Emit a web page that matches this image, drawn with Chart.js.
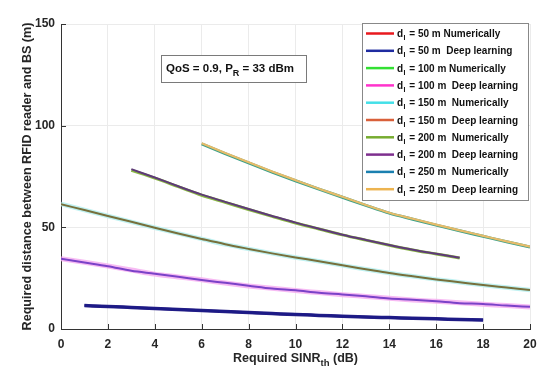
<!DOCTYPE html>
<html><head><meta charset="utf-8">
<script src="https://cdn.jsdelivr.net/npm/chart.js@4.4.0/dist/chart.umd.min.js"></script>
<style>html,body{margin:0;padding:0;background:#fff;}#wrap{width:550px;height:377px;}</style>
</head><body><div id="wrap"><canvas id="c" width="550" height="377"></canvas></div>
<script>
// ---- data ----
const x50 = [1,2,3,4,5,6,7,8,9,10,11,12,13,14,15,16,17,18];
const num50 = [11.5,11.1,10.6,10.1,9.6,9.1,8.6,8.1,7.6,7.1,6.7,6.3,5.9,5.6,5.3,5.0,4.7,4.4];
const dl50  = [11.6,11.1,10.6,10.1,9.6,9.1,8.6,8.1,7.6,7.2,6.7,6.3,5.9,5.6,5.3,5.0,4.7,4.4];
const x100 = [0,1,2,3,4,5,6,7,8,9,10,11,12,13,14,15,16,17,18,19,20];
const num100 = [34.6,32.8,31.0,29.0,27.0,25.6,24.2,22.6,21.2,20.0,18.9,17.9,16.9,16.0,15.1,14.3,13.6,12.9,12.2,11.5,10.8];
const dl100  = [34.5,32.7,30.9,28.6,27.2,25.7,24.1,22.7,21.3,19.9,19.0,17.8,17.0,16.1,15.0,14.4,13.6,12.7,12.3,11.5,10.9];
const x150 = [0,1,2,3,4,5,6,7,8,9,10,11,12,13,14,15,16,17,18,19,20];
const num150 = [61.5,58.5,55.6,52.7,49.8,47.0,44.3,41.6,39.4,37.2,35.2,33.3,31.3,29.4,27.5,25.9,24.4,23.0,21.6,20.4,19.2];
const dl150  = [61.4,58.5,55.6,52.7,49.8,47.0,44.3,41.7,39.4,37.2,35.2,33.3,31.3,29.4,27.5,25.9,24.4,23.0,21.6,20.4,19.2];
const x200 = [3,4,5,6,7,8,9,10,11,12,13,14,15,16,17];
const num200 = [78.0,74.2,70.0,65.8,62.3,58.8,55.4,52.1,49.2,46.3,43.7,41.2,38.9,36.9,34.9];
const dl200  = [78.6,74.5,70.2,66.1,62.5,59.0,55.6,52.3,49.3,46.4,43.8,41.3,39.0,37.0,35.0];
const x250 = [6,7,8,9,10,11,12,13,14,15,16,17,18,19,20];
const num250 = [91.0,86.3,81.7,77.2,72.9,68.8,64.8,60.8,57.0,54.0,51.1,48.3,45.6,42.9,40.3];
const dl250  = [91.3,86.6,82.0,77.5,73.2,69.0,65.0,61.0,57.2,54.2,51.3,48.5,45.8,43.1,40.5];
const xTicks = [0,2,4,6,8,10,12,14,16,18,20];
const yTicks = [0,50,100,150];
const legendLabels = [
  '50 m Numerically','50 m  Deep learning','100 m Numerically','100 m  Deep learning',
  '150 m  Numerically','150 m  Deep learning','200 m  Numerically','200 m  Deep learning',
  '250 m  Numerically','250 m  Deep learning'
];
const legendColors = ['#e8191e','#1f2ba0','#33e033','#ff33cc','#44e0e8','#d9603a','#77ac30','#7e2f8e','#1a80b0','#edb450'];

function pts(xs, ys){ return xs.map((x,i)=>({x:x,y:ys[i]})); }

const datasets = [
  {data:pts(x50,num50), borderColor:'#2a2288', borderWidth:3.5, order:2},
  {data:pts(x50,dl50), borderColor:'#1c1a86', borderWidth:2.5, order:1},
  {data:pts(x100,num100), borderColor:'rgba(245,170,240,0.8)', borderWidth:5, order:2},
  {data:pts(x100,dl100), borderColor:'#7b42c8', borderWidth:2, order:1},
  {data:pts(x150,num150), borderColor:'rgba(185,240,240,0.9)', borderWidth:4.5, order:2},
  {data:pts(x150,dl150), borderColor:'#77703c', borderWidth:2, order:1},
  {data:pts(x200,num200), borderColor:'#8ab844', borderWidth:3, order:2},
  {data:pts(x200,dl200), borderColor:'#5e3a78', borderWidth:2, order:1},
  {data:pts(x250,num250), borderColor:'#3aa088', borderWidth:3, order:2},
  {data:pts(x250,dl250), borderColor:'#e6bb6a', borderWidth:2.2, order:1}
].map(d=>Object.assign({pointRadius:0, fill:false, tension:0.3, cubicInterpolationMode:'monotone'}, d));

const FONT = 'Liberation Sans, Arial, sans-serif';
const TXT = '#262626';

function drawSub(ctx, parts, x, y, fs, sfs){
  let cx = x;
  parts.forEach(p=>{
    if(p[1]){ ctx.font = 'bold '+sfs+'px '+FONT; ctx.fillText(p[0], cx, y+4); }
    else { ctx.font = 'bold '+fs+'px '+FONT; ctx.fillText(p[0], cx, y); }
    cx += ctx.measureText(p[0]).width;
  });
}
function measureSub(ctx, parts, fs, sfs){
  let w=0; parts.forEach(p=>{ctx.font='bold '+(p[1]?sfs:fs)+'px '+FONT; w+=ctx.measureText(p[0]).width;}); return w;
}

const deco = {
  id:'deco',
  afterDraw(chart){
    const ctx = chart.ctx, xs = chart.scales.x, ys = chart.scales.y, ca = chart.chartArea;
    ctx.save();
    ctx.strokeStyle = '#333'; ctx.lineWidth = 1;
    xTicks.forEach(v=>{ const px = Math.round(xs.getPixelForValue(v))+0.5;
      ctx.beginPath(); ctx.moveTo(px, ca.bottom); ctx.lineTo(px, ca.bottom-5); ctx.stroke(); });
    yTicks.forEach(v=>{ const py = Math.round(ys.getPixelForValue(v))+0.5;
      ctx.beginPath(); ctx.moveTo(ca.left, py); ctx.lineTo(ca.left+5, py); ctx.stroke(); });
    // annotation box
    ctx.fillStyle = '#fff'; ctx.strokeStyle = '#7a7a7a';
    ctx.fillRect(161,55,145,27); ctx.strokeRect(161.5,55.5,145,27);
    ctx.fillStyle = '#111'; ctx.textBaseline = 'alphabetic'; ctx.textAlign='left';
    const ann = [['QoS = 0.9, P',false],['R',true],[' = 33 dBm',false]];
    drawSub(ctx, ann, 230 - measureSub(ctx, ann, 11.5, 9)/2, 72, 11.5, 9);
    // x title
    ctx.fillStyle = TXT;
    const xt = [['Required SINR',false],['th',true],[' (dB)',false]];
    drawSub(ctx, xt, (ca.left+ca.right)/2 - measureSub(ctx, xt, 12.5, 9.5)/2, 362, 12.5, 9.5);
    // y title
    ctx.save(); ctx.translate(31, (ca.top+ca.bottom)/2); ctx.rotate(-Math.PI/2);
    ctx.font = 'bold 12.6px '+FONT; ctx.textAlign='center';
    ctx.fillText('Required distance between RFID reader and BS (m)', 0, 0);
    ctx.restore();
    // legend
    const lx=362, ly=23, lw=166, lh=177;
    ctx.fillStyle='#fff'; ctx.fillRect(lx,ly,lw,lh);
    ctx.strokeStyle='#888'; ctx.lineWidth=1; ctx.strokeRect(lx+0.5,ly+0.5,lw,lh);
    legendLabels.forEach((lab,i)=>{
      const cy = 33.5 + i*17.3;
      ctx.strokeStyle = legendColors[i]; ctx.lineWidth = 2.5;
      ctx.beginPath(); ctx.moveTo(366,cy); ctx.lineTo(394,cy); ctx.stroke();
      ctx.fillStyle = '#111'; ctx.textAlign='left';
      let cx = 397;
      ctx.font = 'bold 10px '+FONT; ctx.fillText('d', cx, cy+3.5); cx += ctx.measureText('d').width+0.5;
      ctx.font = 'bold 7px '+FONT; ctx.fillText('I', cx, cy+6.5); cx += ctx.measureText('I').width+1;
      ctx.font = 'bold 10px '+FONT; ctx.fillText(' = '+lab, cx, cy+3.5);
    });
    ctx.restore();
  }
};

new Chart(document.getElementById('c'), {
  type:'line',
  data:{datasets:datasets},
  options:{
    responsive:false, animation:false, devicePixelRatio:1,
    layout:{padding:{top:24,right:20,left:0,bottom:0}},
    plugins:{legend:{display:false}, tooltip:{enabled:false}},
    scales:{
      x:{type:'linear', min:0, max:20,
        afterBuildTicks(s){ s.ticks = xTicks.map(v=>({value:v})); },
        afterFit(s){ s.height = 48; },
        grid:{color:'#ebebeb', drawTicks:false},
        border:{display:true, color:'#333'},
        ticks:{padding:8, color:TXT, font:{family:FONT, size:12, weight:'bold'}, maxRotation:0}
      },
      y:{type:'linear', min:0, max:150,
        afterBuildTicks(s){ s.ticks = yTicks.map(v=>({value:v})); },
        afterFit(s){ s.width = 61; },
        grid:{color:'#ebebeb', drawTicks:false},
        border:{display:true, color:'#333'},
        ticks:{padding:6, color:TXT, font:{family:FONT, size:12, weight:'bold'}}
      }
    }
  },
  plugins:[deco]
});
</script></body></html>
